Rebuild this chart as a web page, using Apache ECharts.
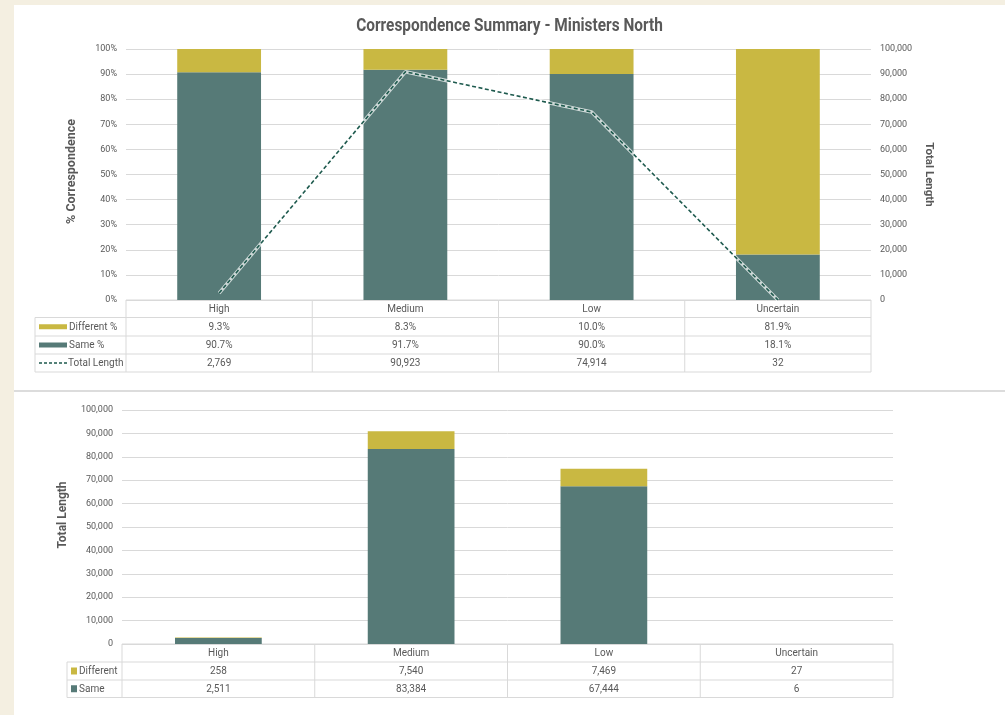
<!DOCTYPE html>
<html><head><meta charset="utf-8">
<script src="https://cdn.jsdelivr.net/npm/echarts@6/dist/echarts.min.js"></script>
<style>
html,body{margin:0;padding:0;background:#f4efe1;width:1005px;height:715px;overflow:hidden}
#topc{position:absolute;left:14px;top:5px;width:991px;height:385px;background:#fff}
#sep{position:absolute;left:14px;top:390px;width:991px;height:2px;background:#dcdcdc}
#botc{position:absolute;left:14px;top:392px;width:991px;height:323px;background:#fff}
</style></head><body>
<div id="topc"></div><div id="sep"></div><div id="botc"></div>
<script>
// ---- data ----
const categories = ['High', 'Medium', 'Low', 'Uncertain'];
const differentPct = [9.3, 8.3, 10.0, 81.9];
const samePct = [90.7, 91.7, 90.0, 18.1];
const totalLength = [2769, 90923, 74914, 32];
const differentLen = [258, 7540, 7469, 27];
const sameLen = [2511, 83384, 67444, 6];
const titleText = 'Correspondence Summary - Ministers North';

// ---- style ----
const FONT = "'Liberation Sans Narrow', 'Roboto', sans-serif";
const C_DIFF = '#c9b842';
const C_SAME = '#567a77';
const C_LINE = '#1e5a4e';
const C_TEXT = '#595959';
const C_GRID = '#d9d9d9';
const fmt = v => v.toLocaleString('en-US');
const fmtPct = v => v.toFixed(1) + '%';

function tableGraphic(chart, g, rowsDef, legendLeft) {
  const els = [];
  const line = (x1, y1, x2, y2) => els.push({type: 'line', shape: {x1, y1, x2, y2}, style: {stroke: C_GRID, lineWidth: 1}, silent: true});
  const ys = [g.top];
  g.rowH.forEach(h => ys.push(ys[ys.length - 1] + h));
  const n = categories.length;
  const w = (g.right - g.left) / n;
  line(g.left, ys[0], g.right, ys[0]);
  for (let i = 1; i < ys.length; i++) line(legendLeft, ys[i], g.right, ys[i]);
  line(legendLeft, ys[1], legendLeft, ys[ys.length - 1]);
  for (let i = 0; i <= n; i++) line(g.left + i * w, ys[0], g.left + i * w, ys[ys.length - 1]);
  const txt = (x, y, t, align) => els.push({type: 'text', x, y, style: {text: t, fill: C_TEXT, font: '10px ' + FONT, textAlign: align || 'center', textVerticalAlign: 'middle'}, silent: true});
  categories.forEach((c, i) => {
    const cx = chart.convertToPixel({xAxisIndex: 0}, c);
    txt(cx, (ys[0] + ys[1]) / 2 + 0.5, c);
    rowsDef.forEach((r, k) => txt(cx, (ys[k + 1] + ys[k + 2]) / 2 + 0.5, r.values[i]));
  });
  rowsDef.forEach((r, k) => {
    const my = (ys[k + 1] + ys[k + 2]) / 2;
    els.push(...r.key(my));
    txt(r.textX, my + 0.5, r.label, 'left');
  });
  return els;
}

// ---- top chart ----
const topChart = echarts.init(document.getElementById('topc'), null, {renderer: 'canvas'});
topChart.setOption({
  animation: false,
  grid: {left: 112, right: 134, top: 44, bottom: 90},
  xAxis: {type: 'category', data: categories, axisLabel: {show: false}, axisTick: {show: false}, axisLine: {show: false}},
  yAxis: [
    {type: 'value', min: 0, max: 100, interval: 10,
     axisLabel: {formatter: '{value}%', color: C_TEXT, fontSize: 9, fontFamily: FONT, margin: 9},
     splitLine: {lineStyle: {color: C_GRID}}, axisLine: {show: false}, axisTick: {show: false},
     name: '% Correspondence', nameLocation: 'middle', nameGap: 48, nameRotate: 90,
     nameTextStyle: {color: C_TEXT, fontSize: 12.5, fontWeight: 'bold', fontFamily: FONT, padding: [0, 0, 0, 6]}},
    {type: 'value', min: 0, max: 100000, interval: 10000, position: 'right',
     axisLabel: {formatter: v => fmt(v), color: C_TEXT, fontSize: 9, fontFamily: FONT, margin: 9},
     splitLine: {show: false}, axisLine: {show: false}, axisTick: {show: false},
     name: 'Total Length', nameLocation: 'middle', nameGap: 51, nameRotate: -90,
     nameTextStyle: {color: C_TEXT, fontSize: 11.5, fontWeight: 'bold', fontFamily: FONT}}
  ],
  series: [
    {name: 'Same %', type: 'bar', stack: 'p', data: samePct, barWidth: '45%', itemStyle: {color: C_SAME}},
    {name: 'Different %', type: 'bar', stack: 'p', data: differentPct, barWidth: '45%', itemStyle: {color: C_DIFF}},
    {name: 'glow', type: 'line', yAxisIndex: 1, data: totalLength, symbol: 'none', lineStyle: {color: 'rgba(255,255,255,0.7)', width: 3.5}, z: 3},
    {name: 'Total Length', type: 'line', yAxisIndex: 1, data: totalLength, symbol: 'none', lineStyle: {color: C_LINE, width: 1.6, type: [4, 2.5]}, z: 4}
  ]
});
const topEls = tableGraphic(topChart,
  {left: 112, right: 857, top: 295, rowH: [17.5, 18.5, 18, 18]},
  [
    {label: 'Different %', values: differentPct.map(fmtPct), textX: 55,
     key: my => [{type: 'rect', shape: {x: 25, y: my - 2.5, width: 28, height: 5}, style: {fill: C_DIFF}, silent: true}]},
    {label: 'Same %', values: samePct.map(fmtPct), textX: 55,
     key: my => [{type: 'rect', shape: {x: 25, y: my - 2.5, width: 28, height: 5}, style: {fill: C_SAME}, silent: true}]},
    {label: 'Total Length', values: totalLength.map(fmt), textX: 54,
     key: my => [{type: 'line', shape: {x1: 25, y1: my, x2: 53, y2: my}, style: {stroke: C_LINE, lineWidth: 1.6, lineDash: [3, 2]}, silent: true}]}
  ], 21);
topEls.push({type: 'text', x: 495.5, y: 21.5, scaleX: 0.88,
  style: {text: titleText, fill: C_TEXT, font: 'bold 17.5px ' + FONT, textAlign: 'center', textVerticalAlign: 'middle'}, silent: true});
topChart.setOption({graphic: {elements: topEls}});

// ---- bottom chart ----
const botChart = echarts.init(document.getElementById('botc'), null, {renderer: 'canvas'});
botChart.setOption({
  animation: false,
  grid: {left: 108, right: 112, top: 18, bottom: 71},
  xAxis: {type: 'category', data: categories, axisLabel: {show: false}, axisTick: {show: false}, axisLine: {show: false}},
  yAxis: {type: 'value', min: 0, max: 100000, interval: 10000,
    axisLabel: {formatter: v => fmt(v), color: C_TEXT, fontSize: 9, fontFamily: FONT, margin: 9},
    splitLine: {lineStyle: {color: C_GRID}}, axisLine: {show: false}, axisTick: {show: false},
    name: 'Total Length', nameLocation: 'middle', nameGap: 53, nameRotate: 90,
    nameTextStyle: {color: C_TEXT, fontSize: 12, fontWeight: 'bold', fontFamily: FONT, padding: [0, 0, 0, 24]}},
  series: [
    {name: 'Same', type: 'bar', stack: 'l', data: sameLen, barWidth: '45%', itemStyle: {color: C_SAME}},
    {name: 'Different', type: 'bar', stack: 'l', data: differentLen, barWidth: '45%', itemStyle: {color: C_DIFF}}
  ]
});
botChart.setOption({graphic: {elements: tableGraphic(botChart,
  {left: 108, right: 879, top: 252, rowH: [18, 18, 17.5]},
  [
    {label: 'Different', values: differentLen.map(fmt), textX: 65,
     key: my => [{type: 'rect', shape: {x: 57, y: my - 3.5, width: 6, height: 7}, style: {fill: C_DIFF}, silent: true}]},
    {label: 'Same', values: sameLen.map(fmt), textX: 65,
     key: my => [{type: 'rect', shape: {x: 57, y: my - 3.5, width: 6, height: 7}, style: {fill: C_SAME}, silent: true}]}
  ], 53)}});
</script>
</body></html>
